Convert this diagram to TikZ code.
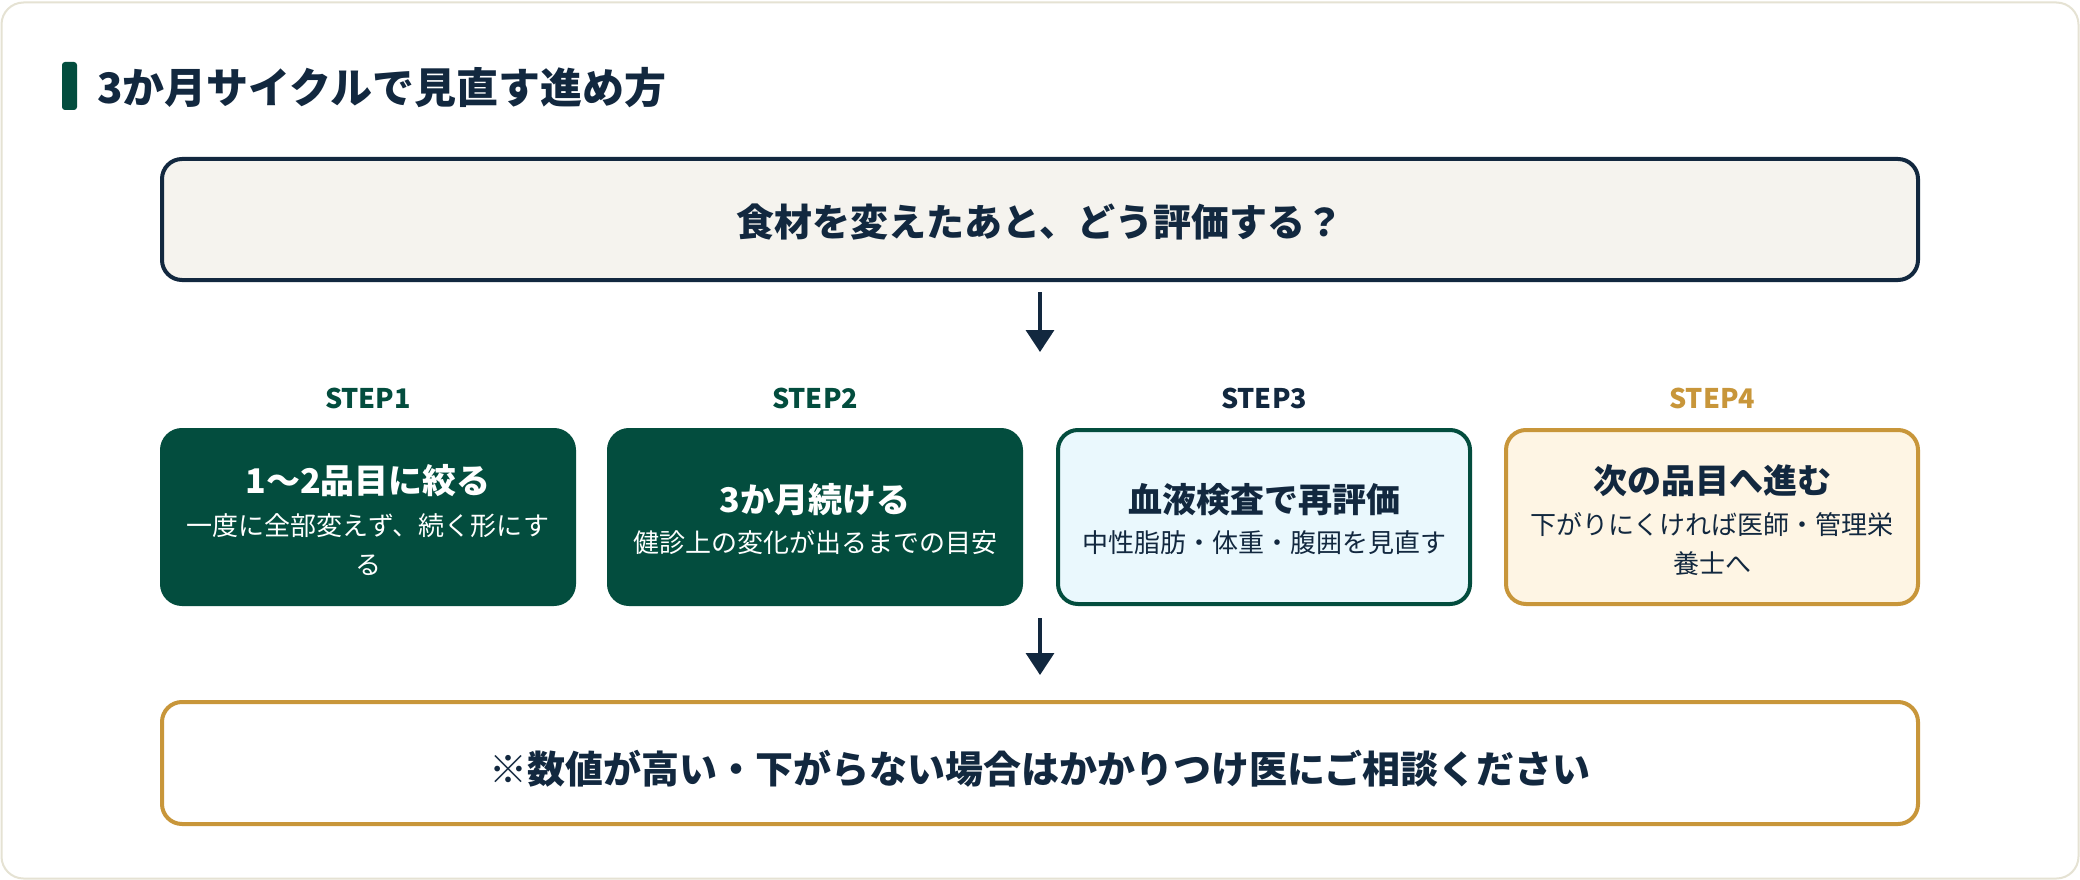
\documentclass[tikz,border=0pt]{standalone}
\usepackage{fontspec}
\setmainfont{Noto Sans CJK JP}
\usetikzlibrary{arrows.meta,calc}
\definecolor{dkgreen}{HTML}{034D3E}
\definecolor{navy}{HTML}{12283F}
\definecolor{gold}{HTML}{C8963A}
\definecolor{lblue}{HTML}{EAF8FD}
\definecolor{cream}{HTML}{FEF5E4}
\definecolor{qfill}{HTML}{F5F3EE}
\definecolor{cardline}{HTML}{E5E2D3}
\newcommand\myfs[2]{\fontsize{#1}{#2}\selectfont}
\begin{document}
\begin{tikzpicture}[x=1pt,y=-1pt,
  every node/.style={inner sep=0pt, outer sep=0pt},
  stepbox/.style={rounded corners=20pt, line width=4pt, minimum width=412pt, minimum height=174pt},
  steplabel/.style={font=\myfs{27}{32}\bfseries},
  boxtitle/.style={font=\myfs{34}{41}\bfseries},
  boxsub/.style={font=\myfs{26}{39}, align=center},
  bigtext/.style={font=\myfs{38}{45}\bfseries, text=navy},
  arr/.style={draw=navy, line width=3.5pt, -{Triangle[length=22pt,width=28pt]}}
]
\useasboundingbox (0,0) rectangle (2080,880);
\draw[draw=cardline, line width=2pt, fill=white, rounded corners=22pt] (1.5,2.5) rectangle (2078.5,878.5);

% title
\node[fill=dkgreen, minimum width=15pt, minimum height=48pt, rounded corners=3pt] (bar) at (69.5,86) {};
\node[anchor=west, font=\myfs{42}{50}\bfseries, text=navy] (title) at (97,88) {3か月サイクルで見直す進め方};

% question box
\node[draw=navy, fill=qfill, line width=4pt, rounded corners=20pt, minimum width=1756pt, minimum height=121pt] (q) at (1040,219.5) {};
\node[bigtext] (qt) at (1040,222) {食材を変えたあと、どう評価する？};

% arrow 1
\coordinate (a1e) at (1040,352);
\draw[arr, shorten <=12pt] (q) -- (a1e);

% step labels
\node[steplabel, text=dkgreen] (l1) at (368,398) {STEP1};
\node[steplabel, text=dkgreen] (l2) at (815,398) {STEP2};
\node[steplabel, text=navy] (l3) at (1264,398) {STEP3};
\node[steplabel, text=gold] (l4) at (1712,398) {STEP4};

% step boxes
\node[stepbox, draw=dkgreen, fill=dkgreen] (s1) at (368,517) {};
\node[stepbox, draw=dkgreen, fill=dkgreen] (s2) at (815,517) {};
\node[stepbox, draw=dkgreen, fill=lblue] (s3) at (1264,517) {};
\node[stepbox, draw=gold, fill=cream] (s4) at (1712,517) {};

\node[boxtitle, text=white] (s1t) at (368,481) {1〜2品目に絞る};
\node[boxsub, text=white] (s1s) at (368,544.5) {一度に全部変えず、続く形にす\\る};
\node[boxtitle, text=white] (s2t) at (815,500) {3か月続ける};
\node[boxsub, text=white] (s2s) at (815,543) {健診上の変化が出るまでの目安};
\node[boxtitle, text=navy] (s3t) at (1264,500) {血液検査で再評価};
\node[boxsub, text=navy] (s3s) at (1264,543) {中性脂肪・体重・腹囲を見直す};
\node[boxtitle, text=navy] (s4t) at (1712,481) {次の品目へ進む};
\node[boxsub, text=navy] (s4s) at (1712,544.5) {下がりにくければ医師・管理栄\\養士へ};

% bottom box
\node[draw=gold, fill=white, line width=4pt, rounded corners=20pt, minimum width=1756pt, minimum height=122pt] (b) at (1040,763) {};
\node[bigtext] (bt) at (1040,769) {※数値が高い・下がらない場合はかかりつけ医にご相談ください};

% arrow 2
\coordinate (a2s) at (1040,618);
\draw[arr, shorten >=27pt] (a2s) -- (b);
\end{tikzpicture}
\end{document}
